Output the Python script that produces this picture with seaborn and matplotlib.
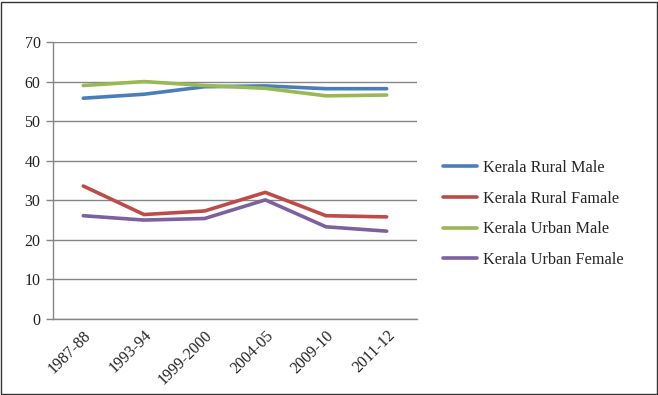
import matplotlib
matplotlib.use("Agg")
import matplotlib.pyplot as plt
import seaborn as sns
import pandas as pd
from matplotlib.patches import Rectangle

categories = ["1987-88", "1993-94", "1999-2000", "2004-05", "2009-10", "2011-12"]
rural_male = [55.8, 56.8, 58.7, 58.9, 58.2, 58.2]
rural_female = [33.6, 26.4, 27.3, 32.0, 26.1, 25.8]
urban_male = [59.0, 60.0, 59.0, 58.3, 56.4, 56.6]
urban_female = [26.1, 25.0, 25.4, 30.1, 23.3, 22.2]
series_names = ["Kerala Rural Male", "Kerala Rural Famale", "Kerala Urban Male", "Kerala Urban Female"]
y_ticks = [0, 10, 20, 30, 40, 50, 60, 70]

rows = []
for name, vals in zip(series_names, [rural_male, rural_female, urban_male, urban_female]):
    for i, (c, v) in enumerate(zip(categories, vals)):
        rows.append({"idx": i, "year": c, "value": v, "series": name})
df = pd.DataFrame(rows)

sns.set_theme(style="white")
plt.rcParams["font.family"] = ["Liberation Serif", "DejaVu Serif"]

fig = plt.figure(figsize=(6.58, 3.95), dpi=100)
ax = fig.add_axes([53/658, 1-319/395, (417-53)/658, (319-42)/395])

palette = ["#4A7EBB", "#BE4B48", "#98B954", "#7D60A0"]
sns.lineplot(data=df, x="idx", y="value", hue="series", palette=palette,
             linewidth=2.6, ax=ax, legend=True, sort=False)

ax.set_xlim(-0.5, 5.5)
ax.set_ylim(0, 70)
ax.set_yticks(y_ticks)
ax.set_yticklabels([str(t) for t in y_ticks], fontsize=11.5, color="#222222")
ax.set_xticks(range(len(categories)))
ax.set_xticklabels(categories, rotation=45, ha="right", rotation_mode="anchor",
                   fontsize=11.5, color="#222222")
ax.set_xticks([i - 0.5 for i in range(len(categories) + 1)], minor=True)
ax.tick_params(axis="x", which="major", length=0, pad=6)
ax.tick_params(axis="x", which="minor", length=5, color="#868686", width=1)
ax.tick_params(axis="y", which="major", length=5, color="#868686", width=1, pad=4, left=True)
ax.set_xlabel("")
ax.set_ylabel("")
ax.grid(axis="y", color="#868686", linewidth=1)
ax.set_axisbelow(True)
for s in ["top", "right"]:
    ax.spines[s].set_visible(False)
for s in ["left", "bottom"]:
    ax.spines[s].set_color("#868686")
    ax.spines[s].set_linewidth(1)

leg = ax.legend(loc="center left", bbox_to_anchor=(443/658, 1-214/395),
                bbox_transform=fig.transFigure, frameon=False, fontsize=11.7,
                handlelength=2.1, labelspacing=0.9, handletextpad=0.38,
                borderpad=0, borderaxespad=0)
for line in leg.get_lines():
    line.set_linewidth(2.6)

fig.patches.append(Rectangle((0.5/658, 1.5/395), 656/658, 392/395, transform=fig.transFigure,
                             fill=False, edgecolor="#333333", linewidth=1))

fig.savefig("out.png", dpi=100)
